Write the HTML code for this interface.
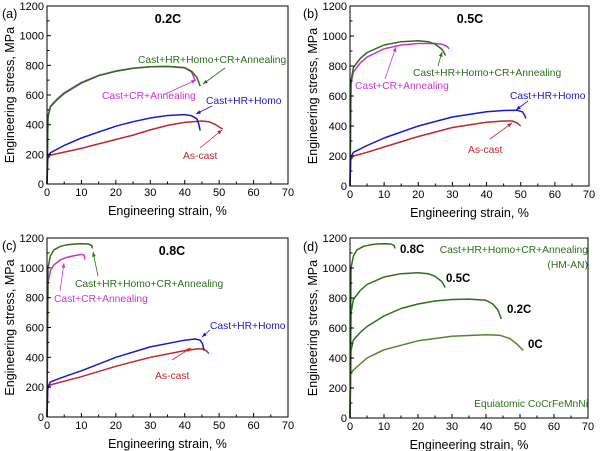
<!DOCTYPE html>
<html><head><meta charset="utf-8"><style>
html,body{margin:0;padding:0;background:#fff;}
svg{display:block;font-family:"Liberation Sans",sans-serif;}
</style></head><body>
<svg id="chart" width="600" height="451" viewBox="0 0 600 451" xmlns="http://www.w3.org/2000/svg"></svg>
<script>
// ---- data (strain %, stress MPa) ----
const xTicks = [0,10,20,30,40,50,60,70];
const yTicks = [0,200,400,600,800,1000,1200];
const a_green_x = [0,0.3,1,3,5,10,15,20,25,30,35,40,42,43.5,44.5];
const a_green_y = [0,450,520,570,610,680,730,760,780,790,793,785,760,720,660];
const a_mag_x = [0,0.3,1,3,5,10,15,20,25,30,35,40,42,43];
const a_mag_y = [0,460,525,575,615,685,732,762,781,790,792,783,755,700];
const a_blue_x = [0,0.2,1,5,10,15,20,25,30,35,40,42,43.5,44,44.5];
const a_blue_y = [0,180,210,260,310,350,390,420,445,462,468,460,440,410,360];
const a_red_x = [0,0.2,1,5,10,15,20,25,30,35,40,45,47,49,51];
const a_red_y = [0,170,195,215,240,270,300,330,365,395,415,425,420,400,370];
const b_green_x = [0,0.3,1,3,5,10,15,20,23,25,27,28];
const b_green_y = [0,700,790,850,890,940,962,968,962,945,910,870];
const b_mag_x = [0,0.3,1,3,5,10,15,20,25,27,28.5,29];
const b_mag_y = [0,680,760,820,860,915,940,950,950,945,930,915];
const b_blue_x = [0,0.2,1,5,10,20,30,40,45,49,50.5,51.2,51.5];
const b_blue_y = [0,190,225,270,320,400,460,495,503,505,495,470,450];
const b_red_x = [0,0.2,1,5,10,20,30,40,45,47.5,49,50];
const b_red_y = [0,175,200,225,260,330,390,425,433,433,420,400];
const c_green_x = [0,0.3,1,2,4,6,8,10,12,13,13.2];
const c_green_y = [0,1000,1080,1120,1145,1155,1160,1162,1160,1150,1130];
const c_mag_x = [0,0.3,1,2,4,6,8,10,10.8,11];
const c_mag_y = [0,900,980,1020,1055,1072,1082,1090,1085,1055];
const c_blue_x = [0,0.2,1,5,10,20,30,40,43,44.5,45.2,45.6];
const c_blue_y = [0,200,235,270,310,400,470,515,523,515,490,445];
const c_red_x = [0,0.2,1,5,10,20,30,40,44,45.5,46.5,47];
const c_red_y = [0,190,215,240,270,340,400,445,458,455,440,425];
const d_0c_x = [0,0.2,1,5,10,20,30,40,44,47,49,51];
const d_0c_y = [0,300,320,400,455,515,545,555,552,530,495,450];

const panels = [
 {id:'a', L:47,R:288,T:6,B:184, letter:'(a)', lx:2, ly:18, series:[
   {n:'cast-cr-annealing',c:'#cc33cc',x:a_mag_x,y:a_mag_y},
   {n:'cast-hr-homo-cr-annealing',c:'#2e6e1e',x:a_green_x,y:a_green_y},
   {n:'as-cast',c:'#c0262a',x:a_red_x,y:a_red_y},
   {n:'cast-hr-homo',c:'#1a1acc',x:a_blue_x,y:a_blue_y}],
  texts:[
   {t:'0.2C',x:168,y:23,c:'#000',b:1,a:'middle',s:12.5},
   {t:'Cast+HR+Homo+CR+Annealing',x:138,y:63,c:'#2e6e1e'},
   {t:'Cast+CR+Annealing',x:102,y:99,c:'#cc33cc'},
   {t:'Cast+HR+Homo',x:206,y:104,c:'#1a1acc'},
   {t:'As-cast',x:183,y:159,c:'#c0262a'}],
  arrows:[[225,68,203,84,'#2e6e1e'],[163,95,196,80,'#cc33cc'],[212,106,196,114,'#1a1acc'],[200,148,222,130,'#c0262a']]},
 {id:'b', L:350,R:589,T:6,B:186, letter:'(b)', lx:303, ly:18, series:[
   {n:'cast-cr-annealing',c:'#cc33cc',x:b_mag_x,y:b_mag_y},
   {n:'cast-hr-homo-cr-annealing',c:'#2e6e1e',x:b_green_x,y:b_green_y},
   {n:'as-cast',c:'#c0262a',x:b_red_x,y:b_red_y},
   {n:'cast-hr-homo',c:'#1a1acc',x:b_blue_x,y:b_blue_y}],
  texts:[
   {t:'0.5C',x:470,y:23,c:'#000',b:1,a:'middle',s:12.5},
   {t:'Cast+HR+Homo+CR+Annealing',x:413,y:76,c:'#2e6e1e'},
   {t:'Cast+CR+Annealing',x:355,y:89,c:'#cc33cc'},
   {t:'Cast+HR+Homo',x:510,y:99,c:'#1a1acc'},
   {t:'As-cast',x:468,y:153,c:'#c0262a'}],
  arrows:[[438,66,442,52,'#2e6e1e'],[385,79,396,47,'#cc33cc'],[528,101,516,110,'#1a1acc'],[490,139,512,123,'#c0262a']]},
 {id:'c', L:47,R:288,T:238,B:417, letter:'(c)', lx:2, ly:250, series:[
   {n:'cast-cr-annealing',c:'#cc33cc',x:c_mag_x,y:c_mag_y},
   {n:'cast-hr-homo-cr-annealing',c:'#2e6e1e',x:c_green_x,y:c_green_y},
   {n:'as-cast',c:'#c0262a',x:c_red_x,y:c_red_y},
   {n:'cast-hr-homo',c:'#1a1acc',x:c_blue_x,y:c_blue_y}],
  texts:[
   {t:'0.8C',x:172,y:255,c:'#000',b:1,a:'middle',s:12.5},
   {t:'Cast+HR+Homo+CR+Annealing',x:75,y:287,c:'#2e6e1e'},
   {t:'Cast+CR+Annealing',x:54,y:302,c:'#cc33cc'},
   {t:'Cast+HR+Homo',x:210,y:329,c:'#1a1acc'},
   {t:'As-cast',x:155,y:379,c:'#c0262a'}],
  arrows:[[98,276,93,252,'#2e6e1e'],[60,291,64,263,'#cc33cc'],[210,330,202,337,'#1a1acc'],[172,360,191,348,'#c0262a']]},
 {id:'d', L:350,R:588,T:238,B:418, letter:'(d)', lx:303, ly:251, series:[
   {n:'0.8c',c:'#2e6e1e',x:c_green_x,y:c_green_y},
   {n:'0.5c',c:'#2e6e1e',x:b_green_x,y:b_green_y},
   {n:'0.2c',c:'#2e6e1e',x:a_green_x,y:a_green_y},
   {n:'0c',c:'#4a8a2a',x:d_0c_x,y:d_0c_y}],
  texts:[
   {t:'0.8C',x:400,y:253,c:'#000',b:1,s:11.5},
   {t:'0.5C',x:446,y:282,c:'#000',b:1,s:11.5},
   {t:'0.2C',x:507,y:313,c:'#000',b:1,s:11.5},
   {t:'0C',x:528,y:348,c:'#000',b:1,s:11.5},
   {t:'Cast+HR+Homo+CR+Annealing',x:588,y:253,c:'#2e6e1e',a:'end'},
   {t:'(HM-AN)',x:588,y:268,c:'#2e6e1e',a:'end'},
   {t:'Equiatomic CoCrFeMnNi',x:588,y:407,c:'#2e6e1e',a:'end'}],
  arrows:[]}
];
const svg = document.getElementById('chart');
const NS='http://www.w3.org/2000/svg';
function mk(tag, attrs, parent){const e=document.createElementNS(NS,tag);for(const k in attrs)e.setAttribute(k,attrs[k]);parent.appendChild(e);return e;}
panels.forEach(p=>{
  const g=mk('g',{},svg);
  
  
  const sx=v=>p.L+(v/70)*(p.R-p.L);
  const sy=v=>p.B-(v/1200)*(p.B-p.T);
  p.series.forEach(s=>{
    const d=s.x.map((v,i)=>(i?'L':'M')+sx(v).toFixed(1)+' '+sy(s.y[i]).toFixed(1)).join(' ');
    const path=mk('path',{d:d,fill:'none',stroke:s.c,'stroke-width':1.5,'stroke-linejoin':'round'},g);
    
    
  });
  const fr=mk('rect',{x:p.L,y:p.T,width:p.R-p.L,height:p.B-p.T,fill:'none',stroke:'#000','stroke-width':1},g);
  
  
  for(let v=0;v<=70;v+=5){
    const major=v%10===0;
    mk('line',{x1:sx(v),x2:sx(v),y1:p.B,y2:p.B-(major?4:2.5),stroke:'#000','stroke-width':1},g);
  }
  for(let v=0;v<=1200;v+=100){
    const major=v%200===0;
    mk('line',{x1:p.L,x2:p.L+(major?4:2.5),y1:sy(v),y2:sy(v),stroke:'#000','stroke-width':1},g);
  }
  xTicks.forEach(v=>{
    const t=mk('text',{x:sx(v),y:p.B+12,'font-size':11,'text-anchor':'middle',fill:'#000'},g);
    t.textContent=v;
    
    
  });
  yTicks.forEach(v=>{
    const t=mk('text',{x:p.L-3,y:sy(v)+4,'font-size':11,'text-anchor':'end',fill:'#000'},g);
    t.textContent=v;
    
    
  });
  const xt=mk('text',{x:(p.L+p.R)/2,y:p.B+31,'font-size':12.5,'text-anchor':'middle',fill:'#000'},g);
  xt.textContent='Engineering strain, %';
  
  
  const yx=p.L-33, yy=(p.T+p.B)/2;
  const yt=mk('text',{x:yx,y:yy,'font-size':12.5,'text-anchor':'middle',fill:'#000',transform:'rotate(-90 '+yx+' '+yy+')'},g);
  yt.textContent='Engineering stress, MPa';
  
  
  const lt=mk('text',{x:p.lx,y:p.ly,'font-size':12.5,fill:'#000'},g);
  lt.textContent=p.letter;
  
  
  p.texts.forEach(o=>{
    const t=mk('text',{x:o.x,y:o.y,'font-size':o.s||10.3,'font-weight':o.b?'bold':'normal','text-anchor':o.a||'start',fill:o.c},g);
    t.textContent=o.t;
    
    
  });
  p.arrows.forEach(a=>{
    const [x1,y1,x2,y2,c]=a;
    mk('line',{x1:x1,y1:y1,x2:x2,y2:y2,stroke:c,'stroke-width':0.8},g);
    const ang=Math.atan2(y2-y1,x2-x1),L=5,w=0.4;
    const p1=[x2-L*Math.cos(ang-w),y2-L*Math.sin(ang-w)],p2=[x2-L*Math.cos(ang+w),y2-L*Math.sin(ang+w)];
    const ah=mk('polygon',{points:x2+','+y2+' '+p1.join(',')+' '+p2.join(','),fill:c},g);
    
    
  });
});
</script>
</body></html>
